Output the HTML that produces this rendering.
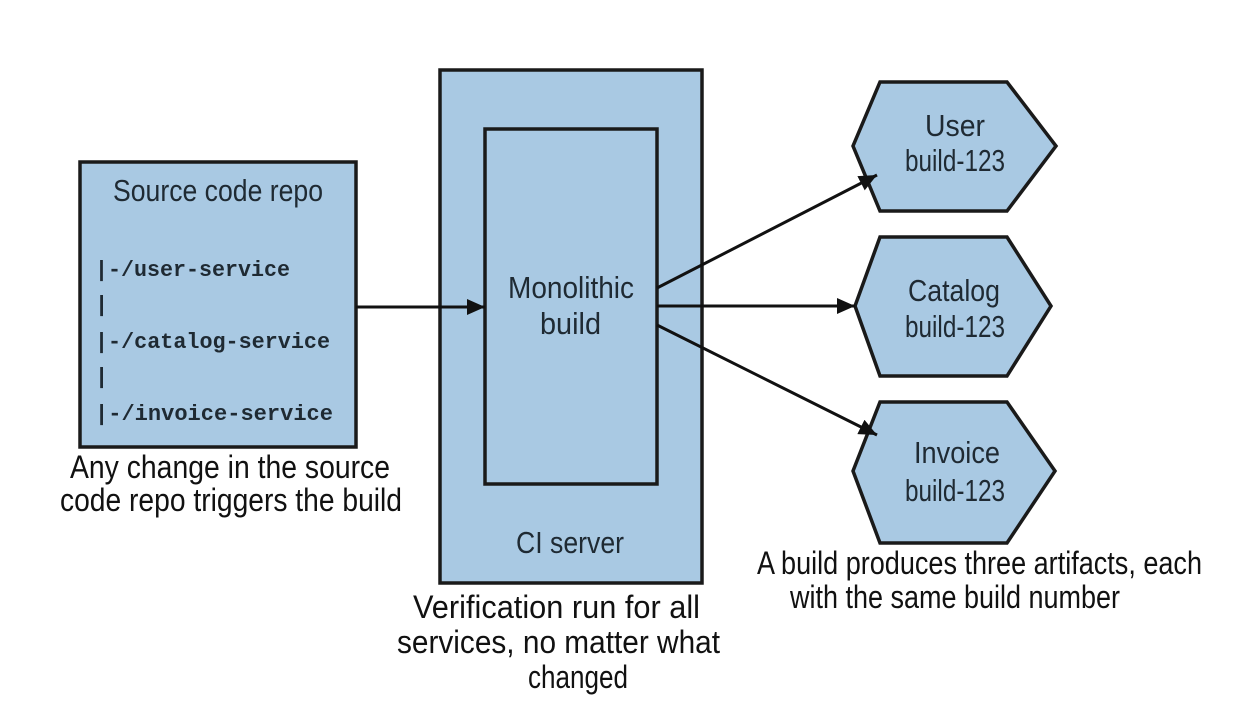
<!DOCTYPE html>
<html><head><meta charset="utf-8"><style>html,body{margin:0;padding:0;background:#fff}svg{display:block}</style></head>
<body>
<svg width="1256" height="710" viewBox="0 0 1256 710" xmlns="http://www.w3.org/2000/svg">
<defs>
<marker id="b" markerWidth="18" markerHeight="16" refX="18" refY="8" orient="auto" markerUnits="userSpaceOnUse"><path d="M0,0 L18,8 L0,16 z" fill="#111"/></marker></defs>
<g fill="#a9c9e3" stroke="#1a1a1a" stroke-width="3.5">
<rect x="80" y="162" width="276" height="285"/>
<rect x="440" y="70" width="262" height="513"/>
<rect x="485" y="129" width="172" height="355"/>
<polygon points="880,82 1007,82 1056,146 1007,211 880,211 853,146"/>
<polygon points="880,237 1007,237 1051,306 1007,376 880,376 855,306"/>
<polygon points="880,402 1007,402 1055,471 1007,543 880,543 853,471"/>
</g>
<g stroke="#111" stroke-width="3" fill="none">
<line x1="356" y1="307" x2="485" y2="307" marker-end="url(#b)"/>
<line x1="657" y1="288" x2="877" y2="175" marker-end="url(#b)"/>
<line x1="657" y1="306" x2="855" y2="306" marker-end="url(#b)"/>
<line x1="657" y1="325" x2="877" y2="435" marker-end="url(#b)"/>
</g>
<g font-family="Liberation Sans, sans-serif" fill="#1f2a33" font-size="31">
<text x="113" y="201" textLength="210" lengthAdjust="spacingAndGlyphs">Source code repo</text>
<text x="508" y="298" textLength="126" lengthAdjust="spacingAndGlyphs">Monolithic</text>
<text x="540" y="334" textLength="61" lengthAdjust="spacingAndGlyphs">build</text>
<text x="516" y="553" textLength="108" lengthAdjust="spacingAndGlyphs">CI server</text>
<text x="925" y="136" textLength="60" lengthAdjust="spacingAndGlyphs">User</text>
<text x="905" y="171" textLength="100" lengthAdjust="spacingAndGlyphs">build-123</text>
<text x="908" y="301" textLength="92" lengthAdjust="spacingAndGlyphs">Catalog</text>
<text x="905" y="337" textLength="100" lengthAdjust="spacingAndGlyphs">build-123</text>
<text x="914" y="463" textLength="86" lengthAdjust="spacingAndGlyphs">Invoice</text>
<text x="905" y="501" textLength="100" lengthAdjust="spacingAndGlyphs">build-123</text>
</g>
<g font-family="Liberation Sans, sans-serif" fill="#111" font-size="32">
<text x="70" y="478" textLength="320" lengthAdjust="spacingAndGlyphs">Any change in the source</text>
<text x="60" y="511" textLength="342" lengthAdjust="spacingAndGlyphs">code repo triggers the build</text>
<text x="413" y="618" textLength="287" lengthAdjust="spacingAndGlyphs">Verification run for all</text>
<text x="397" y="653" textLength="323" lengthAdjust="spacingAndGlyphs">services, no matter what</text>
<text x="528" y="688" textLength="100" lengthAdjust="spacingAndGlyphs">changed</text>
<text x="757" y="574" textLength="445" lengthAdjust="spacingAndGlyphs">A build produces three artifacts, each</text>
<text x="790" y="608" textLength="330" lengthAdjust="spacingAndGlyphs">with the same build number</text>
</g>
<g font-family="Liberation Mono, monospace" fill="#1f2a33" font-size="22" font-weight="bold">
<text x="95" y="276" textLength="195" lengthAdjust="spacingAndGlyphs">|-/user-service</text>
<text x="95" y="311">|</text>
<text x="95" y="348" textLength="235" lengthAdjust="spacingAndGlyphs">|-/catalog-service</text>
<text x="95" y="383">|</text>
<text x="95" y="420" textLength="238" lengthAdjust="spacingAndGlyphs">|-/invoice-service</text>
</g>
</svg>
</body></html>
